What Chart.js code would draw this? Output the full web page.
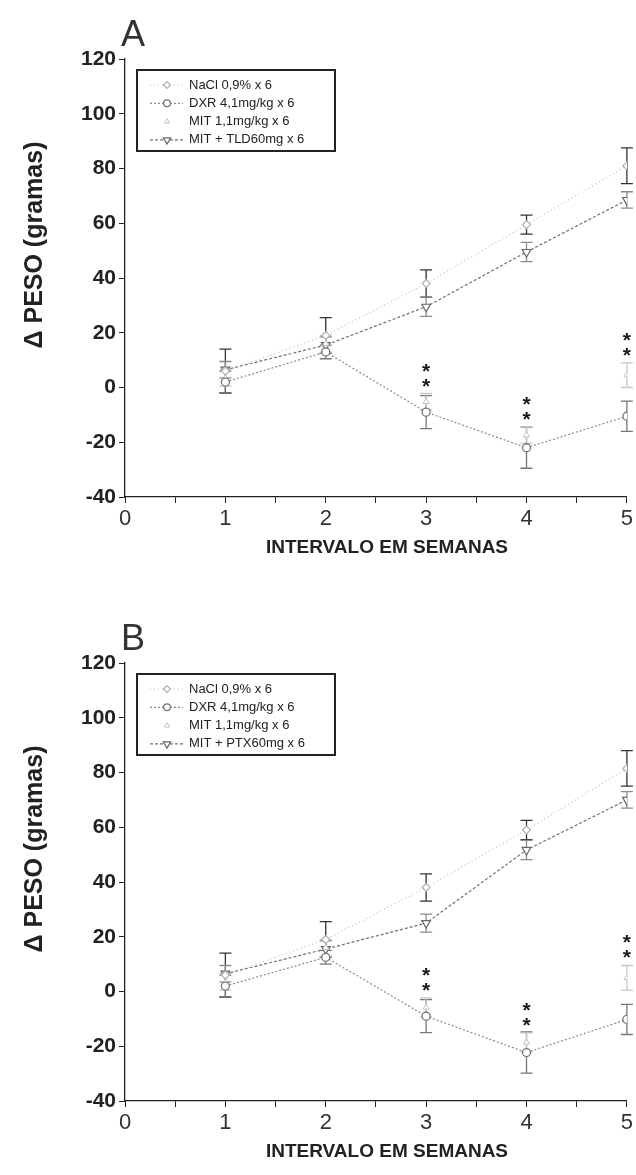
<!DOCTYPE html>
<html>
<head>
<meta charset="utf-8">
<script src="https://cdn.jsdelivr.net/npm/chart.js@4.4.1/dist/chart.umd.min.js"></script>
<style>
  body { margin: 0; background: #fff; width: 636px; height: 1175px; position: relative; overflow: hidden; }
  .panel { position: absolute; left: 0; width: 636px; height: 571px; }
  #panelA { top: 0; }
  #panelB { top: 604px; }
</style>
</head>
<body>
<div class="panel" id="panelA"><canvas id="chartA" width="636" height="571"></canvas></div>
<div class="panel" id="panelB"><canvas id="chartB" width="636" height="571"></canvas></div>
<script>
// weeks after start of treatment
const weeks = [1, 2, 3, 4, 5];
const yTicks = [-40, -20, 0, 20, 40, 60, 80, 100, 120];
const sigWeeks = [3, 4, 5];

// panel A: mean weight change (g) and error
const naclA = [6, 19, 38, 59.5, 81];
const naclErrA = [8, 6.5, 5, 3.5, 6.5];
const dxrA = [2, 13, -9, -22, -10.5];
const dxrErrA = [4, 2.5, 6, 7.5, 5.5];
const mitA = [3.5, 16, -5.2, -17.4, 4.5];
const mitErrA = [3, 3, 3, 3, 4.5];
const tldA = [6.5, 15.5, 29.5, 49.5, 68.5];
const tldErrA = [3, 3, 3.5, 3.5, 3];

// panel B
const naclB = [6, 19, 38, 59, 81.5];
const naclErrB = [8, 6.5, 5, 3.5, 6.5];
const dxrB = [2, 12.5, -9, -22.3, -10.2];
const dxrErrB = [4, 2.5, 6, 7.5, 5.5];
const mitB = [3.5, 16, -5.8, -18.6, 5];
const mitErrB = [3, 3, 3.5, 3.5, 4.5];
const ptxB = [6.5, 15.5, 25, 51.7, 70];
const ptxErrB = [3, 3, 3.3, 3.5, 3];

const FONT = "'Liberation Sans', Arial, sans-serif";

function pts(values) {
    return values.map((v, i) => ({ x: weeks[i], y: v }));
}

function makeDatasets(nacl, naclErr, dxr, dxrErr, mit, mitErr, combo, comboErr, comboLabel) {
    return [
        {
            label: "NaCl 0,9% x 6", data: pts(nacl), errors: naclErr, errorColor: "#333",
            borderColor: "#bdbdbd", borderWidth: 1.2, borderDash: [1, 3],
            pointStyle: "rectRot", pointRadius: 4, pointBorderColor: "#b0b0b0", pointBackgroundColor: "#fff", pointBorderWidth: 1.2
        },
        {
            label: "DXR 4,1mg/kg x 6", data: pts(dxr), errors: dxrErr, errorColor: "#777",
            borderColor: "#8a8a8a", borderWidth: 1.2, borderDash: [2, 2],
            pointStyle: "circle", pointRadius: 4, pointBorderColor: "#777", pointBackgroundColor: "#fff", pointBorderWidth: 1.3
        },
        {
            label: "MIT 1,1mg/kg x 6", data: pts(mit), errors: mitErr, errorColor: "#c8c8c8",
            showLine: false, borderColor: "#d0d0d0",
            pointStyle: "triangle", pointRadius: 3.5, pointBorderColor: "#c4c4c4", pointBackgroundColor: "#fff", pointBorderWidth: 1
        },
        {
            label: comboLabel, data: pts(combo), errors: comboErr, errorColor: "#8c8c8c",
            borderColor: "#707070", borderWidth: 1.2, borderDash: [3, 2],
            pointStyle: "triangle", pointRotation: 180, pointRadius: 5, pointBorderColor: "#666", pointBackgroundColor: "#fff", pointBorderWidth: 1.2
        }
    ];
}

// vertical error bars with caps, drawn under the markers
const errorBars = {
    id: "errorBars",
    beforeDatasetsDraw(chart) {
        const { ctx, scales: { x, y } } = chart;
        chart.data.datasets.forEach(ds => {
            if (!ds.errors) return;
            ctx.save();
            ctx.strokeStyle = ds.errorColor;
            ctx.lineWidth = 1.3;
            ds.data.forEach((p, i) => {
                const px = x.getPixelForValue(p.x);
                const top = y.getPixelForValue(p.y + ds.errors[i]);
                const bot = y.getPixelForValue(p.y - ds.errors[i]);
                ctx.beginPath();
                ctx.moveTo(px, top); ctx.lineTo(px, bot);
                ctx.moveTo(px - 6, top); ctx.lineTo(px + 6, top);
                ctx.moveTo(px - 6, bot); ctx.lineTo(px + 6, bot);
                ctx.stroke();
            });
            ctx.restore();
        });
    }
};

// panel letter, axis titles, boxed legend and significance marks
const decor = {
    id: "decor",
    afterDraw(chart, args, opts) {
        const { ctx, scales: { x, y } } = chart;
        ctx.save();
        ctx.fillStyle = "#333";
        ctx.font = "36px " + FONT;
        ctx.textAlign = "center";
        ctx.textBaseline = "alphabetic";
        ctx.fillText(opts.letter, 133, 46);

        ctx.fillStyle = "#222";
        ctx.font = "bold 19px " + FONT;
        ctx.textBaseline = "middle";
        ctx.fillText("INTERVALO EM SEMANAS", 387, 548);

        ctx.save();
        ctx.translate(35, 245);
        ctx.rotate(-Math.PI / 2);
        ctx.font = "bold 25px " + FONT;
        ctx.fillText("\u0394 PESO (gramas)", 0, 0);
        ctx.restore();

        // significance asterisks above the MIT error bars
        const mit = chart.data.datasets[2];
        ctx.font = "bold 21px " + FONT;
        ctx.fillStyle = "#1a1a1a";
        ctx.textBaseline = "alphabetic";
        sigWeeks.forEach(w => {
            const i = weeks.indexOf(w);
            const px = x.getPixelForValue(w);
            const top = y.getPixelForValue(mit.data[i].y + mit.errors[i]);
            ctx.fillText("*", px, top - 1);
            ctx.fillText("*", px, top - 16);
        });

        // legend box
        const bx = 137, by = 70, bw = 198, bh = 81;
        ctx.strokeStyle = "#222";
        ctx.lineWidth = 2;
        ctx.strokeRect(bx, by, bw, bh);
        ctx.font = "13px " + FONT;
        ctx.textAlign = "left";
        ctx.textBaseline = "middle";
        chart.data.datasets.forEach((ds, k) => {
            const ry = by + 15 + k * 18.3;
            if (ds.showLine !== false) {
                ctx.save();
                ctx.strokeStyle = ds.borderColor;
                ctx.lineWidth = 1.2;
                ctx.setLineDash(ds.borderDash || []);
                ctx.beginPath();
                ctx.moveTo(150, ry); ctx.lineTo(183, ry);
                ctx.stroke();
                ctx.restore();
            }
            ctx.save();
            ctx.strokeStyle = ds.pointBorderColor;
            ctx.fillStyle = ds.pointBackgroundColor;
            ctx.lineWidth = ds.pointBorderWidth;
            Chart.helpers.drawPoint(ctx, {
                pointStyle: ds.pointStyle,
                radius: ds.pointRadius * 0.85,
                rotation: ds.pointRotation || 0,
                borderWidth: ds.pointBorderWidth
            }, 167, ry);
            ctx.restore();
            ctx.fillStyle = "#222";
            ctx.fillText(ds.label, 189, ry);
        });
        ctx.restore();
    }
};

function buildChart(id, letter, datasets) {
    return new Chart(document.getElementById(id), {
        type: "line",
        data: { datasets },
        options: {
            responsive: false,
            animation: false,
            devicePixelRatio: 1,
            layout: { padding: { top: 59, right: 9, left: 0, bottom: 0 } },
            elements: { line: { tension: 0 } },
            scales: {
                x: {
                    type: "linear", min: 0, max: 5,
                    afterFit: s => { s.height = 74; },
                    border: { display: true, color: "#222", width: 1.3 },
                    grid: { drawOnChartArea: false, drawTicks: true, tickLength: 6, color: "#222" },
                    ticks: {
                        stepSize: 0.5, padding: 3, color: "#333",
                        font: { family: FONT, size: 22 },
                        callback: v => Number.isInteger(v) ? String(v) : ""
                    }
                },
                y: {
                    min: -40, max: 120,
                    afterFit: s => { s.width = 125; },
                    border: { display: true, color: "#222", width: 1.3 },
                    grid: { drawOnChartArea: false, drawTicks: true, tickLength: 6, color: "#222" },
                    ticks: {
                        stepSize: 10, padding: 3, color: "#222",
                        font: { family: FONT, size: 21, weight: "bold" },
                        callback: v => yTicks.includes(v) ? String(v) : ""
                    }
                }
            },
            plugins: {
                legend: { display: false },
                tooltip: { enabled: false },
                decor: { letter }
            }
        },
        plugins: [errorBars, decor]
    });
}

buildChart("chartA", "A", makeDatasets(naclA, naclErrA, dxrA, dxrErrA, mitA, mitErrA, tldA, tldErrA, "MIT + TLD60mg x 6"));
buildChart("chartB", "B", makeDatasets(naclB, naclErrB, dxrB, dxrErrB, mitB, mitErrB, ptxB, ptxErrB, "MIT + PTX60mg x 6"));
</script>
</body>
</html>
